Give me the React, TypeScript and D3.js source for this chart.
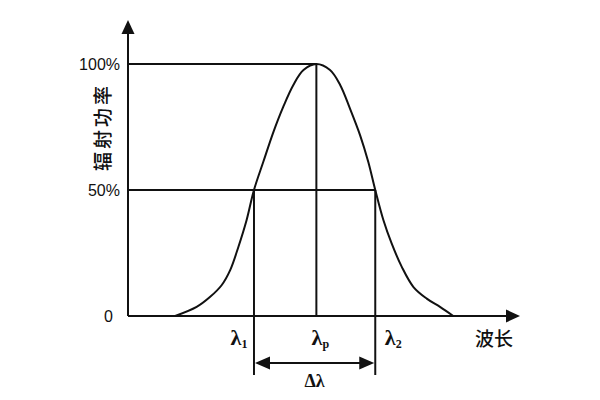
import React from "react";
import * as d3 from "d3";

// wavelength in arbitrary units (0..100 along the x axis)
const wavelengths = [12.1, 17.6, 21.0, 24.0, 26.2, 28.3, 30.4, 32.3, 34.7, 37.3, 39.8, 42.4, 45.0, 48.3, 51.8, 54.4, 56.9, 59.5, 61.6, 63.4, 65.5, 67.6, 70.2, 73.2, 76.6, 80.0, 83.4];
// relative radiant power in %
const power = [0, 3.6, 7.5, 12.2, 18.2, 27.4, 38, 50, 61.2, 73.1, 83, 91.7, 97.6, 100, 97.6, 91.7, 82.4, 71.8, 61.2, 50, 38, 28.8, 19.5, 11.5, 6.9, 3.6, 0];

const yTickValues = [0, 50, 100];
const yTickLabels = ["0", "50%", "100%"];
const lambda1 = 32.3;
const lambdaP = 48.3;
const lambda2 = 63.4;
const yTitle = "辐射功率";
const xTitle = "波长";

const W = 600;
const H = 400;
const x0 = 128;
const x1 = 518;
const yTop = 64;
const yBottom = 316;

export default function App() {
  const x = d3.scaleLinear().domain([0, 100]).range([x0, x1]);
  const y = d3.scaleLinear().domain([0, 100]).range([yBottom, yTop]);
  const pts: [number, number][] = wavelengths.map((w, i) => [w, power[i]]);
  const line = d3
    .line<[number, number]>()
    .x((d) => x(d[0]))
    .y((d) => y(d[1]))
    .curve(d3.curveCatmullRom.alpha(0.5));

  const stroke = "#111";
  const sw = 2;
  const dimY = 363;
  const xl1 = x(lambda1);
  const xl2 = x(lambda2);
  const xlp = x(lambdaP);
  const numFont = "'Liberation Sans', Arial, sans-serif";
  const cjk = "'Noto Sans CJK SC', sans-serif";
  const serif = "'Liberation Serif', 'DejaVu Serif', serif";

  return (
    <svg width={W} height={H} style={{ position: "absolute", left: 0, top: 0, background: "#fff" }}>
      <rect width={W} height={H} fill="#fff" />
      {/* axes */}
      <line x1={x0} y1={yBottom} x2={x0} y2={30} stroke={stroke} strokeWidth={sw} />
      <path d={`M${x0},20 L${x0 - 6.5},34 L${x0 + 6.5},34 Z`} fill={stroke} />
      <line x1={x0} y1={yBottom} x2={508} y2={yBottom} stroke={stroke} strokeWidth={sw} />
      <path d={`M520,${yBottom} L506,${yBottom - 6.5} L506,${yBottom + 6.5} Z`} fill={stroke} />

      {/* y tick labels */}
      {yTickValues.map((v, i) => (
        <text
          key={v}
          x={v === 0 ? 113 : 120}
          y={y(v)}
          dy="0.36em"
          textAnchor="end"
          fontFamily={numFont}
          fontSize={16}
          fill={stroke}
        >
          {yTickLabels[i]}
        </text>
      ))}

      {/* y title */}
      <text
        transform={`translate(103,127) rotate(-90)`}
        textAnchor="middle"
        dy="0.36em"
        fontFamily={cjk}
        fontSize={19}
        fontWeight={500}
        letterSpacing={3}
        fill={stroke}
      >
        {yTitle}
      </text>

      {/* reference lines */}
      <line x1={x0} y1={y(100)} x2={xlp} y2={y(100)} stroke={stroke} strokeWidth={sw} />
      <line x1={x0} y1={y(50)} x2={xl2} y2={y(50)} stroke={stroke} strokeWidth={sw} />
      <line x1={xlp} y1={y(100)} x2={xlp} y2={yBottom} stroke={stroke} strokeWidth={sw} />
      <line x1={xl1} y1={y(50)} x2={xl1} y2={375} stroke={stroke} strokeWidth={sw} />
      <line x1={xl2} y1={y(50)} x2={xl2} y2={375} stroke={stroke} strokeWidth={sw} />

      {/* curve */}
      <path d={line(pts) || ""} fill="none" stroke={stroke} strokeWidth={sw} />

      {/* dimension arrow */}
      <line x1={xl1 + 10} y1={dimY} x2={xl2 - 10} y2={dimY} stroke={stroke} strokeWidth={sw} />
      <path d={`M${xl1 + 1},${dimY} L${xl1 + 16},${dimY - 6.5} L${xl1 + 16},${dimY + 6.5} Z`} fill={stroke} />
      <path d={`M${xl2 - 1},${dimY} L${xl2 - 16},${dimY - 6.5} L${xl2 - 16},${dimY + 6.5} Z`} fill={stroke} />

      {/* lambda labels */}
      {[
        { v: lambda1, sub: "1", dx: -15 },
        { v: lambdaP, sub: "p", dx: 4 },
        { v: lambda2, sub: "2", dx: 18 },
      ].map((m) => (
        <text key={m.sub} x={x(m.v) + m.dx} y={345} textAnchor="middle" fontFamily={serif} fontSize={22} fontWeight="bold" fill={stroke}>
          λ
          <tspan fontSize={12} dy={3}>
            {m.sub}
          </tspan>
        </text>
      ))}
      <text x={(xl1 + xl2) / 2} y={387} textAnchor="middle" fontFamily={serif} fontSize={18} fontWeight="bold" fill={stroke}>
        Δλ
      </text>

      {/* x title */}
      <text x={494} y={339} dy="0.36em" textAnchor="middle" fontFamily={cjk} fontSize={19} fontWeight={500} fill={stroke}>
        {xTitle}
      </text>
    </svg>
  );
}
